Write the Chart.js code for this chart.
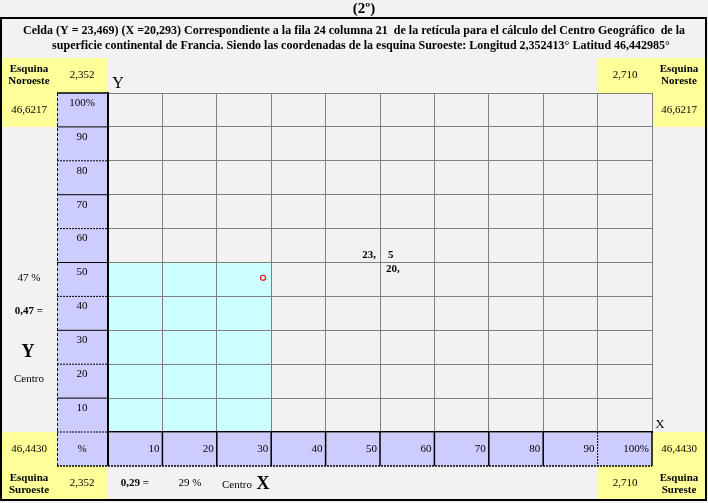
<!DOCTYPE html>
<html lang="es">
  <head>
    <meta charset="UTF-8" />
    <title>Centro Geográfico - Celda 24/21</title>
    <script src="https://cdn.jsdelivr.net/npm/chart.js"></script>
    <style>
      body {
        margin: 0;
        background-color: #f2f2f2;
      }
      #wrap {
        width: 708px;
        height: 503px;
      }
    </style>
  </head>
  <body>
    <div id="wrap"><canvas id="celda" width="708" height="503"></canvas></div>

    <script>
      // valores
      const porcentajes = [10, 20, 30, 40, 50, 60, 70, 80, 90, 100];
      const etiquetasX = ["10", "20", "30", "40", "50", "60", "70", "80", "90", "100%"];
      const etiquetasY = ["10", "20", "30", "40", "50", "60", "70", "80", "90", "100%"];
      const zonaX = [0, 30];
      const zonaY = [50, 50];
      const centroX = [28.5];
      const centroY = [45.5];

      const titulo = "(2º)";
      const cabecera = [
        "Celda (Y = 23,469) (X =20,293) Correspondiente a la fila 24 columna 21  de la retícula para el cálculo del Centro Geográfico  de la",
        "superficie continental de Francia. Siendo las coordenadas de la esquina Suroeste: Longitud 2,352413° Latitud 46,442985°",
      ];
      const longitudes = ["2,352", "2,710"];
      const latitudes = ["46,6217", "46,4430"];

      const serif = "'Liberation Serif', 'Times New Roman', serif";
      const negro = "#000000";

      function texto(ctx, t, x, y, size, bold, align, maxW) {
        ctx.font = (bold ? "bold " : "") + size + "px " + serif;
        ctx.textAlign = align || "center";
        ctx.textBaseline = "middle";
        ctx.fillStyle = negro;
        if (maxW) ctx.fillText(t, x, y, maxW);
        else ctx.fillText(t, x, y);
      }

      function celda(ctx, x1, y1, x2, y2, color) {
        ctx.fillStyle = color;
        ctx.fillRect(x1, y1, x2 - x1, y2 - y1);
      }

      function linea(ctx, x1, y1, x2, y2, ancho, guiones) {
        ctx.save();
        ctx.strokeStyle = negro;
        ctx.lineWidth = ancho;
        ctx.setLineDash(guiones || []);
        ctx.beginPath();
        ctx.moveTo(x1, y1);
        ctx.lineTo(x2, y2);
        ctx.stroke();
        ctx.restore();
      }

      const tabla = {
        id: "tabla",
        beforeDraw(chart) {
          const ctx = chart.ctx;
          const sx = chart.scales.x;
          const sy = chart.scales.y;
          const izq = sx.left;
          const der = sx.right;
          const arriba = sy.top;
          const abajo = sy.bottom;
          const colW = sx.getPixelForValue(10) - sx.getPixelForValue(0);
          const filaH = sy.getPixelForValue(0) - sy.getPixelForValue(10);

          ctx.save();
          celda(ctx, 0, 0, chart.width, chart.height, "#f2f2f2");

          // celdas amarillas de las esquinas
          const amarillo = "#ffff99";
          celda(ctx, 2, arriba - 35, izq, arriba, amarillo);
          celda(ctx, 2, arriba, izq - colW + 3, arriba + filaH, amarillo);
          celda(ctx, der - colW, arriba - 35, 706, arriba, amarillo);
          celda(ctx, der, arriba, 706, arriba + filaH, amarillo);
          celda(ctx, 2, abajo, izq - colW + 3, abajo + 34, amarillo);
          celda(ctx, 2, abajo + 34, izq, 500, amarillo);
          celda(ctx, der, abajo, 706, abajo + 34, amarillo);
          celda(ctx, der - colW, abajo + 34, 706, 500, amarillo);

          // columna y fila de porcentajes
          const lila = "#ccccff";
          celda(ctx, 57, arriba, izq, abajo + 34, lila);
          celda(ctx, izq, abajo, der, abajo + 34, lila);
          ctx.restore();
        },
        afterDraw(chart) {
          const ctx = chart.ctx;
          const sx = chart.scales.x;
          const sy = chart.scales.y;
          const izq = sx.left;
          const der = sx.right;
          const arriba = sy.top;
          const abajo = sy.bottom;
          const pieY = abajo + 34;

          ctx.save();
          // marco general
          ctx.strokeStyle = negro;
          ctx.lineWidth = 2;
          ctx.strokeRect(1, 18, 705, 482);

          texto(ctx, titulo, 364, 9, 15, true);
          texto(ctx, cabecera[0], 354, 31, 12, true, "center", 662);
          texto(ctx, cabecera[1], 361, 46, 12, true, "center", 627);

          // etiquetas de la columna Y
          porcentajes.forEach((v, i) => {
            const yTop = sy.getPixelForValue(v);
            const yBot = sy.getPixelForValue(v - 10);
            texto(ctx, etiquetasY[i], 82, yTop + 10, 11, false);
            linea(ctx, 57, yBot, izq, yBot, 1, i % 2 ? [] : [2, 1]);
          });
          linea(ctx, 57, arriba, izq, arriba, 1.5);
          linea(ctx, 57.5, arriba, 57.5, pieY, 1, [3, 2]);

          // etiquetas de la fila X
          porcentajes.forEach((v, i) => {
            const xDer = sx.getPixelForValue(v);
            texto(ctx, etiquetasX[i], xDer - 3, abajo + 17, 11, false, "right");
            linea(ctx, xDer, abajo, xDer, pieY, i === 8 ? 1 : 1.5, i === 8 ? [2, 1] : []);
          });
          texto(ctx, "%", 82, abajo + 17, 11, false);
          linea(ctx, 57, pieY, der, pieY, 1.5, [2, 1]);
          linea(ctx, izq, abajo, izq, pieY, 2);

          // esquinas
          texto(ctx, "Esquina", 29, arriba - 24, 11, true);
          texto(ctx, "Noroeste", 29, arriba - 12, 11, true);
          texto(ctx, longitudes[0], 82, arriba - 18, 11, false);
          texto(ctx, latitudes[0], 29, arriba + 17, 11, false);
          texto(ctx, longitudes[1], der - 27, arriba - 18, 11, false);
          texto(ctx, "Esquina", 679, arriba - 24, 11, true);
          texto(ctx, "Noreste", 679, arriba - 12, 11, true);
          texto(ctx, latitudes[0], 679, arriba + 17, 11, false);

          texto(ctx, latitudes[1], 29, abajo + 17, 11, false);
          texto(ctx, "Esquina", 29, pieY + 12, 11, true);
          texto(ctx, "Suroeste", 29, pieY + 24, 11, true);
          texto(ctx, longitudes[0], 82, pieY + 17, 11, false);
          texto(ctx, latitudes[1], 679, abajo + 17, 11, false);
          texto(ctx, longitudes[1], der - 27, pieY + 17, 11, false);
          texto(ctx, "Esquina", 679, pieY + 12, 11, true);
          texto(ctx, "Sureste", 679, pieY + 24, 11, true);

          // nombres de ejes y centro
          texto(ctx, "Y", izq + 10, arriba - 9, 16, false);
          texto(ctx, "X", der + 8, abajo - 7, 13, false);
          texto(ctx, "47 %", 29, 278, 11, false);
          texto(ctx, "0,47 =", 29, 311, 11, true);
          texto(ctx, "Y", 28, 352, 18, true);
          texto(ctx, "Centro", 29, 379, 11, false);
          texto(ctx, "0,29 =", 135, pieY + 17, 11, true);
          texto(ctx, "29 %", 190, pieY + 17, 11, false);
          texto(ctx, "Centro", 237, pieY + 19, 11, false);
          texto(ctx, "X", 263, pieY + 18, 18, true);

          // referencia en el cruce 50 / 50
          const cx = sx.getPixelForValue(50);
          const cy = sy.getPixelForValue(50);
          texto(ctx, "23,", cx - 4, cy - 7, 11, true, "right");
          texto(ctx, "5", cx + 8, cy - 7, 11, true, "left");
          texto(ctx, "20,", cx + 6, cy + 7, 11, true, "left");
          ctx.restore();
        },
      };

      const ejeComun = {
        type: "linear",
        min: 0,
        max: 100,
        ticks: { display: false, stepSize: 10 },
        grid: { color: "#808080", lineWidth: 1, drawTicks: false, tickLength: 0, z: 1 },
        border: { color: negro, width: 2, z: 1 },
      };

      new Chart(document.getElementById("celda").getContext("2d"), {
        type: "scatter",
        data: {
          datasets: [
            {
              type: "line",
              order: 2,
              data: zonaX.map((x, i) => ({ x: x, y: zonaY[i] })),
              fill: "origin",
              backgroundColor: "#ccffff",
              borderWidth: 0,
              pointRadius: 0,
            },
            {
              order: 1,
              data: centroX.map((x, i) => ({ x: x, y: centroY[i] })),
              pointRadius: 2.5,
              borderWidth: 1.2,
              borderColor: "#ff0000",
              backgroundColor: "rgba(0,0,0,0)",
            },
          ],
        },
        options: {
          responsive: false,
          animation: false,
          devicePixelRatio: 1,
          layout: { padding: { left: 108, top: 93, right: 56, bottom: 71 } },
          scales: {
            x: Object.assign({}, ejeComun, { position: "bottom" }),
            y: Object.assign({}, ejeComun, { position: "left" }),
          },
          plugins: {
            legend: { display: false },
            tooltip: { enabled: false },
          },
        },
        plugins: [tabla],
      });
    </script>
  </body>
</html>
